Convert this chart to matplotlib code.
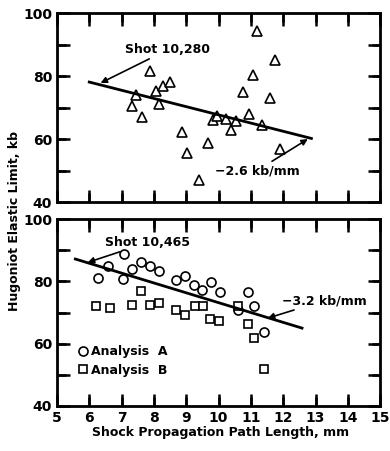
import numpy as np
import matplotlib
matplotlib.use("Agg")
import matplotlib.pyplot as plt
from matplotlib.ticker import MultipleLocator

plt.rcParams['font.family'] = 'DejaVu Sans'
plt.rcParams['font.weight'] = 'bold'

# top panel, shot 10,280
top_x = [7.46, 7.33, 7.64, 7.87, 8.05, 8.15, 8.28, 8.49, 8.87, 9.02, 9.38, 9.66,
         9.84, 9.96, 10.23, 10.37, 10.53, 10.76, 10.94, 11.05, 11.19, 11.33,
         11.58, 11.75, 11.91]
top_y = [74.1, 70.6, 67.0, 81.5, 75.4, 71.2, 76.9, 78.2, 62.1, 55.6, 46.9, 58.7,
         65.9, 67.4, 66.3, 62.8, 65.6, 75.0, 68.0, 80.3, 94.3, 64.4,
         73.1, 85.2, 57.0]
top_fit_x = [6.0, 12.87]
top_fit_y = [78.1, 60.2]

# bottom panel, shot 10,465
a_x = [6.26, 6.57, 7.06, 7.04, 7.32, 7.60, 7.89, 8.16, 8.69, 8.97, 9.25, 9.48,
       9.76, 10.05, 10.59, 10.90, 11.11, 11.39]
a_y = [81.1, 85.1, 88.9, 80.7, 84.1, 86.2, 85.1, 83.4, 80.5, 81.8, 78.7, 77.3,
       79.7, 76.6, 70.9, 76.6, 72.2, 63.9]
b_x = [6.21, 6.63, 7.32, 7.60, 7.89, 8.16, 8.69, 8.95, 9.28, 9.52, 9.74, 10.02,
       10.59, 10.90, 11.08, 11.39]
b_y = [72.2, 71.4, 72.5, 77.0, 72.5, 73.0, 70.9, 69.3, 72.0, 72.0, 68.0, 67.2,
       72.2, 66.4, 61.8, 51.7]
bot_fit_x = [5.57, 12.58]
bot_fit_y = [87.2, 65.0]

x_ticks = np.arange(5, 16, 1)
y_ticks = np.arange(50, 100, 10)

fig = plt.figure(figsize=(3.9, 4.51), dpi=100)
ax1 = fig.add_axes([0.146, 0.552, 0.829, 0.419])
ax2 = fig.add_axes([0.146, 0.100, 0.829, 0.414])

# top panel
ax1.plot(top_x, top_y, '^', ms=7, mfc='white', mec='black', mew=1.2)
ax1.plot(top_fit_x, top_fit_y, '-', color='black', lw=2)
ax1.annotate('Shot 10,280', xy=(6.35, 77.8), xytext=(7.12, 88.4),
             fontsize=9, va='center', ha='left',
             arrowprops=dict(arrowstyle='-|>', color='black', lw=1.2,
                             shrinkA=0, shrinkB=0, mutation_scale=9))
ax1.annotate('\u22122.6 kb/mm', xy=(12.76, 60.0), xytext=(12.5, 50.0),
             fontsize=9, va='center', ha='right',
             arrowprops=dict(arrowstyle='-|>', color='black', lw=1.2,
                             shrinkA=0, shrinkB=0, mutation_scale=9))

# bottom panel
ax2.plot(a_x, a_y, 'o', ms=6.5, mfc='white', mec='black', mew=1.2,
         label='Analysis  A')
ax2.plot(b_x, b_y, 's', ms=6, mfc='white', mec='black', mew=1.2,
         label='Analysis  B')
ax2.plot(bot_fit_x, bot_fit_y, '-', color='black', lw=2)
ax2.annotate('Shot 10,465', xy=(5.95, 86.1), xytext=(6.5, 92.5),
             fontsize=9, va='center', ha='left',
             arrowprops=dict(arrowstyle='-|>', color='black', lw=1.2,
                             shrinkA=0, shrinkB=0, mutation_scale=9))
ax2.annotate('\u22123.2 kb/mm', xy=(11.52, 68.2), xytext=(11.95, 73.8),
             fontsize=9, va='center', ha='left',
             arrowprops=dict(arrowstyle='-|>', color='black', lw=1.2,
                             shrinkA=0, shrinkB=0, mutation_scale=9))
ax2.legend(loc='upper left', bbox_to_anchor=(0.05, 0.36), frameon=False,
           fontsize=9, handlelength=0.6, handletextpad=0.3, labelspacing=0.45,
           borderpad=0)

# axes styling, ticks inward on all four sides
for ax in (ax1, ax2):
    ax.set_xlim(5, 15)
    ax.set_ylim(40, 100)
    ax.xaxis.set_major_locator(MultipleLocator(1))
    ax.yaxis.set_major_locator(MultipleLocator(20))
    ax.yaxis.set_minor_locator(MultipleLocator(10))
    ax.tick_params(which='both', direction='in', top=True, right=True,
                   width=1.8, length=9, color='black', labelsize=10)
    for s in ax.spines.values():
        s.set_linewidth(2)
    # tick marks drawn again as plain lines so they always show
    xt = ax.get_xaxis_transform()
    yt = ax.get_yaxis_transform()
    ax.vlines(x_ticks, 0, 0.046, transform=xt, colors='black', lw=1.8)
    ax.vlines(x_ticks, 0.954, 1, transform=xt, colors='black', lw=1.8)
    ax.hlines(y_ticks, 0, 0.027, transform=yt, colors='black', lw=1.8)
    ax.hlines(y_ticks, 0.973, 1, transform=yt, colors='black', lw=1.8)
    ax.set_xlim(5, 15)
    ax.set_ylim(40, 100)
ax1.tick_params(axis='x', labelbottom=False)

fig.text(0.038, 0.51, 'Hugoniot Elastic Limit, kb', rotation=90,
         ha='center', va='center', fontsize=9)
fig.text(0.565, 0.042, 'Shock Propagation Path Length, mm',
         ha='center', va='center', fontsize=9)

fig.savefig('out.png', dpi=100)
